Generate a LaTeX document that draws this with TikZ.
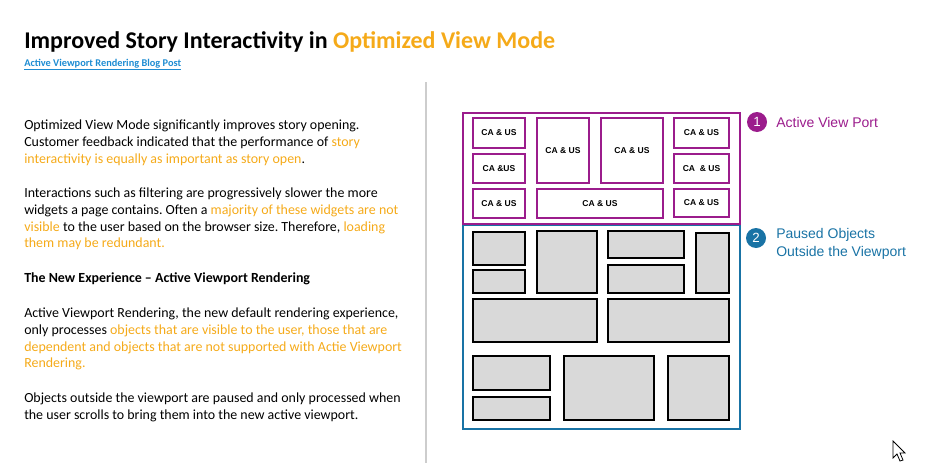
\documentclass[tikz,border=0pt]{standalone}
\usepackage{fontspec}
\setmainfont{Carlito}
\newfontfamily\arialfont{Liberation Sans}
\usetikzlibrary{positioning}
\frenchspacing

\definecolor{hlorange}{RGB}{245,170,25}
\definecolor{linkblue}{RGB}{30,140,210}
\definecolor{vppurple}{RGB}{155,28,140}
\definecolor{pausedblue}{RGB}{25,115,165}
\definecolor{boxgray}{RGB}{217,217,217}
\definecolor{divgray}{RGB}{205,205,205}

\begin{document}
\begin{tikzpicture}[
  x=0.75pt, y=-0.75pt,
  line join=miter,
  vpbox/.style={draw=vppurple, line width=1.5pt},
  pausedbox/.style={draw=black, fill=boxgray, line width=1.6pt},
  calabel/.style={inner sep=0pt, font=\arialfont\bfseries\fontsize{6.4}{7}\selectfont},
  bodytext/.style={anchor=north west, align=left, inner sep=0pt,
    font=\fontsize{10.45}{12.5}\selectfont},
  numcirc/.style={circle, minimum size=15pt, inner sep=0pt, text=white,
    font=\arialfont\fontsize{10}{12}\selectfont},
  sidelabel/.style={align=left, inner sep=0pt,
    font=\arialfont\fontsize{10.5}{13.5}\selectfont}
]
\useasboundingbox (0,0) rectangle (925,468);

% heading
\node[anchor=base west, inner sep=0pt, font=\bfseries\fontsize{18}{22}\selectfont] (title) at (24,48)
  {Improved Story Interactivity in \textcolor{hlorange}{Optimized View Mode}};
\node[anchor=base west, inner sep=0pt, text=linkblue, font=\bfseries\fontsize{7.75}{10}\selectfont] (link) at (24,66)
  {\underline{Active Viewport Rendering Blog Post}};

% left column
\node[bodytext] (para1) at (24,120) {Optimized View Mode significantly improves story opening.\\
  Customer feedback indicated that the performance of \textcolor{hlorange}{story}\\
  \textcolor{hlorange}{interactivity is equally as important as story open}.};
\node[bodytext] (para2) at (24,188) {Interactions such as filtering are progressively slower the more\\
  widgets a page contains. Often a \textcolor{hlorange}{majority of these widgets are not}\\
  \textcolor{hlorange}{visible} to the user based on the browser size. Therefore, \textcolor{hlorange}{loading}\\
  \textcolor{hlorange}{them may be redundant.}};
\node[bodytext, font=\bfseries\fontsize{10.45}{12.5}\selectfont] (head) at (24,272.5)
  {The New Experience – Active Viewport Rendering};
\node[bodytext] (para3) at (24,308) {Active Viewport Rendering, the new default rendering experience,\\
  only processes \textcolor{hlorange}{objects that are visible to the user, those that are}\\
  \textcolor{hlorange}{dependent and objects that are not supported with Actie Viewport}\\
  \textcolor{hlorange}{Rendering.}};
\node[bodytext] (para4) at (24,392.5) {Objects outside the viewport are paused and only processed when\\
  the user scrolls to bring them into the new active viewport.};

\draw[divgray, line width=1pt] (426,82) -- (426,463);

% paused part
\draw[draw=pausedblue, line width=1.5pt] (463,225) rectangle (740,429);
\foreach \xa/\ya/\xb/\yb in {473/232/525/265, 473/270/525/293, 537/231/597/293,
  608/231/684/258, 608/265/684/293, 696/233/729/293,
  473/299/597/342, 608/299/729/342,
  473/356/550/390, 473/397/550/420, 564/356/654/420, 668/356/729/420} {
  \draw[pausedbox] (\xa,\ya) rectangle (\xb,\yb);
}

% active viewport
\draw[vpbox] (463,113) rectangle (740,224);
\foreach \xa/\ya/\xb/\yb/\lbl [count=\i] in {
  473/118/525/148/{CA \& US}, 473/154/525/183/{CA \&US}, 473/189/525/218/{CA \& US},
  537/118/589/183/{CA \& US}, 601/118/663/183/{CA \& US}, 537/189/663/218/{CA \& US},
  674/118/729/148/{CA \& US}, 674/154/729/183/{CA\ \ \& US}, 674/189/729/217/{CA \& US}} {
  \pgfmathsetmacro{\cx}{(\xa+\xb)/2}
  \pgfmathsetmacro{\cy}{(\ya+\yb)/2}
  \draw[vpbox] (\xa,\ya) rectangle (\xb,\yb);
  \node[calabel] (ca\i) at (\cx,\cy) {\lbl};
}

% legend
\node[numcirc, fill=vppurple] (num1) at (757,122) {1};
\node[sidelabel, anchor=base west, text=vppurple] (lbl1) at (776,127) {Active View Port};
\node[numcirc, fill=pausedblue] (num2) at (756,238) {2};
\node[sidelabel, anchor=north west, text=pausedblue] (lbl2) at (776,228) {Paused Objects\\Outside the Viewport};

% mouse pointer
\draw[fill=white, line width=0.6pt] (893,441) -- ++(0,17) -- ++(4,-4) -- ++(3,7) -- ++(3,-1)
  -- ++(-3,-7) -- ++(5,0) -- cycle;
\end{tikzpicture}
\end{document}
